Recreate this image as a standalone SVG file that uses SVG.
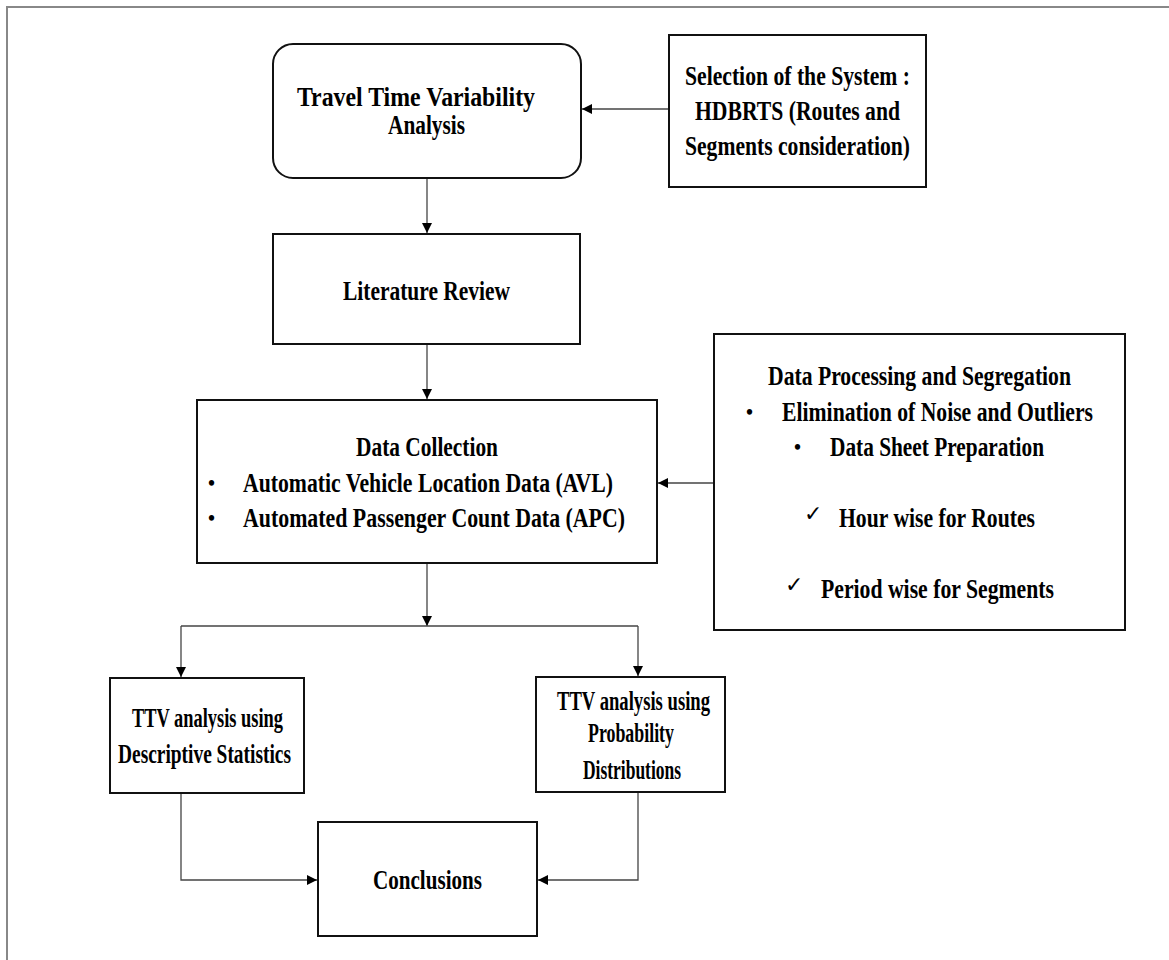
<svg xmlns="http://www.w3.org/2000/svg" width="1169" height="960" viewBox="0 0 1169 960">
<style>
.box{fill:#fff;stroke:#111;stroke-width:2}
.t{font-family:"Liberation Serif","Times New Roman",serif;font-weight:bold;font-size:28px;fill:#000}
.c{fill:none;stroke:#444;stroke-width:1.3}
.chk{font-family:"DejaVu Sans",sans-serif;font-size:22px;fill:#000}
.b{font-family:"Liberation Serif","Times New Roman",serif;font-weight:bold;font-size:20px;fill:#000}
</style>
<defs>
<marker id="ah" markerUnits="userSpaceOnUse" markerWidth="10" markerHeight="10" viewBox="0 0 10 10" refX="10" refY="5" orient="auto">
<path d="M0,0 L10,5 L0,10 Z" fill="#000"/>
</marker>
</defs>
<rect x="0" y="0" width="1169" height="960" fill="#fff"/>
<path d="M7,960 V7 H1169" fill="none" stroke="#888" stroke-width="2"/>

<g id="connectors">
<path class="c" d="M669,109 H582" marker-end="url(#ah)"/>
<path class="c" d="M427,178 V233" marker-end="url(#ah)"/>
<path class="c" d="M427,344 V399" marker-end="url(#ah)"/>
<path class="c" d="M714,483 H658" marker-end="url(#ah)"/>
<path class="c" d="M427,563 V626" marker-end="url(#ah)"/>
<path class="c" d="M181,626 H638"/>
<path class="c" d="M181,626 V677" marker-end="url(#ah)"/>
<path class="c" d="M638,626 V676" marker-end="url(#ah)"/>
<path class="c" d="M181,793 V880 H317" marker-end="url(#ah)"/>
<path class="c" d="M638,792 V880 H538" marker-end="url(#ah)"/>
</g>

<g id="travel">
<rect class="box" x="273" y="44" width="308" height="134" rx="20" ry="20"/>
<text class="t" x="297" y="106" textLength="238" lengthAdjust="spacingAndGlyphs">Travel Time Variability</text>
<text class="t" x="388" y="134" textLength="77" lengthAdjust="spacingAndGlyphs">Analysis</text>
</g>

<g id="selection">
<rect class="box" x="669" y="35" width="257" height="152"/>
<text class="t" x="685" y="85" textLength="225" lengthAdjust="spacingAndGlyphs">Selection of the System :</text>
<text class="t" x="695" y="120" textLength="205" lengthAdjust="spacingAndGlyphs">HDBRTS (Routes and</text>
<text class="t" x="685" y="155" textLength="225" lengthAdjust="spacingAndGlyphs">Segments consideration)</text>
</g>

<g id="literature">
<rect class="box" x="273" y="234" width="307" height="110"/>
<text class="t" x="343" y="300" textLength="167" lengthAdjust="spacingAndGlyphs">Literature Review</text>
</g>

<g id="datacollection">
<rect class="box" x="197" y="400" width="460" height="163"/>
<text class="t" x="356" y="456" textLength="142" lengthAdjust="spacingAndGlyphs">Data Collection</text>
<text class="b" x="208" y="490">•</text>
<text class="t" x="243" y="492" textLength="370" lengthAdjust="spacingAndGlyphs">Automatic Vehicle Location Data (AVL)</text>
<text class="b" x="208" y="525">•</text>
<text class="t" x="243" y="527" textLength="382" lengthAdjust="spacingAndGlyphs">Automated Passenger Count Data (APC)</text>
</g>

<g id="dataprocessing">
<rect class="box" x="714" y="334" width="411" height="296"/>
<text class="t" x="768" y="385" textLength="303" lengthAdjust="spacingAndGlyphs">Data Processing and Segregation</text>
<text class="b" x="746" y="419">•</text>
<text class="t" x="782" y="421" font-size="26" textLength="311" lengthAdjust="spacingAndGlyphs">Elimination of Noise and Outliers</text>
<text class="b" x="794" y="454">•</text>
<text class="t" x="830" y="456" textLength="214" lengthAdjust="spacingAndGlyphs">Data Sheet Preparation</text>
<text class="chk" x="804" y="521">✓</text>
<text class="t" x="839" y="527" textLength="196" lengthAdjust="spacingAndGlyphs">Hour wise for Routes</text>
<text class="chk" x="785" y="592">✓</text>
<text class="t" x="821" y="598" textLength="233" lengthAdjust="spacingAndGlyphs">Period wise for Segments</text>
</g>

<g id="ttv-descriptive">
<rect class="box" x="110" y="678" width="194" height="115"/>
<text class="t" x="132" y="727" textLength="151" lengthAdjust="spacingAndGlyphs">TTV analysis using</text>
<text class="t" x="118" y="763" textLength="173" lengthAdjust="spacingAndGlyphs">Descriptive Statistics</text>
</g>

<g id="ttv-probability">
<rect class="box" x="536" y="677" width="189" height="115"/>
<text class="t" x="557" y="710" textLength="153" lengthAdjust="spacingAndGlyphs">TTV analysis using</text>
<text class="t" x="588" y="742" textLength="86" lengthAdjust="spacingAndGlyphs">Probability</text>
<text class="t" x="583" y="779" textLength="98" lengthAdjust="spacingAndGlyphs">Distributions</text>
</g>

<g id="conclusions">
<rect class="box" x="318" y="822" width="219" height="114"/>
<text class="t" x="373" y="889" textLength="109" lengthAdjust="spacingAndGlyphs">Conclusions</text>
</g>
</svg>
